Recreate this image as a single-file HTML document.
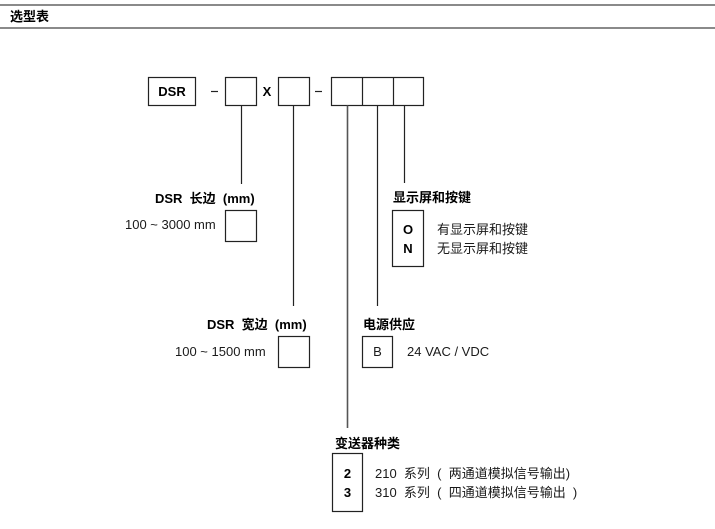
<!DOCTYPE html>
<html><head><meta charset="utf-8"><style>
html,body{margin:0;padding:0;background:#fff;}
body{width:715px;height:529px;overflow:hidden;}
svg{display:block;}
text{font-family:"Liberation Sans","Noto Sans CJK SC",sans-serif;fill:#1a1a1a;font-size:13px;}
.b{font-weight:bold;fill:#000;}
</style></head><body>
<svg width="715" height="529" viewBox="0 0 715 529" xmlns="http://www.w3.org/2000/svg">
<!-- header -->
<rect x="0" y="4" width="715" height="2" fill="#8a8a8a"/>
<rect x="0" y="27" width="715" height="2" fill="#8a8a8a"/>
<text x="10" y="21" class="b" style="font-size:13px">选型表</text>

<g fill="none" stroke="#222" stroke-width="1.2">
<!-- top row boxes -->
<rect x="148.5" y="77.5" width="47" height="28"/>
<rect x="225.5" y="77.5" width="31" height="28"/>
<rect x="278.5" y="77.5" width="31" height="28"/>
<rect x="331.5" y="77.5" width="92" height="28"/>
<line x1="362.5" y1="77.5" x2="362.5" y2="105.5"/>
<line x1="393.5" y1="77.5" x2="393.5" y2="105.5"/>
<!-- dashes -->
<line x1="211" y1="91.5" x2="218" y2="91.5"/>
<line x1="315" y1="91.5" x2="322" y2="91.5"/>
<!-- connectors -->
<line x1="241.5" y1="105.5" x2="241.5" y2="184"/>
<line x1="293.5" y1="105.5" x2="293.5" y2="306"/>
<line x1="347.5" y1="105.5" x2="347.5" y2="428" stroke="#555" stroke-width="1.6"/>
<line x1="377.5" y1="105.5" x2="377.5" y2="306"/>
<line x1="404.5" y1="105.5" x2="404.5" y2="183"/>
<!-- small boxes -->
<rect x="225.5" y="210.5" width="31" height="31"/>
<rect x="392.5" y="210.5" width="31" height="56"/>
<rect x="278.5" y="336.5" width="31" height="31"/>
<rect x="362.5" y="336.5" width="30" height="31"/>
<rect x="332.5" y="453.5" width="30" height="58"/>
</g>

<text x="172" y="96" class="b" text-anchor="middle">DSR</text>
<text x="267" y="96" class="b" text-anchor="middle">X</text>

<!-- length -->
<text x="155" y="203" class="b" xml:space="preserve">DSR  长边  (mm)</text>
<text x="125" y="229">100 ~ 3000 mm</text>

<!-- display -->
<text x="393" y="202" class="b">显示屏和按键</text>
<text x="408" y="234" class="b" text-anchor="middle">O</text>
<text x="408" y="253" class="b" text-anchor="middle">N</text>
<text x="437" y="234">有显示屏和按键</text>
<text x="437" y="253">无显示屏和按键</text>

<!-- width -->
<text x="207" y="329" class="b" xml:space="preserve">DSR  宽边  (mm)</text>
<text x="175" y="356">100 ~ 1500 mm</text>

<!-- power -->
<text x="363" y="329" class="b">电源供应</text>
<text x="377.5" y="356" text-anchor="middle">B</text>
<text x="407" y="356">24 VAC / VDC</text>

<!-- type -->
<text x="335" y="448" class="b">变送器种类</text>
<text x="347.5" y="478" class="b" text-anchor="middle">2</text>
<text x="347.5" y="497" class="b" text-anchor="middle">3</text>
<text x="375" y="478" xml:space="preserve">210  系列  (  两通道模拟信号输出)</text>
<text x="375" y="497" xml:space="preserve">310  系列  (  四通道模拟信号输出  )</text>
</svg>
</body></html>
